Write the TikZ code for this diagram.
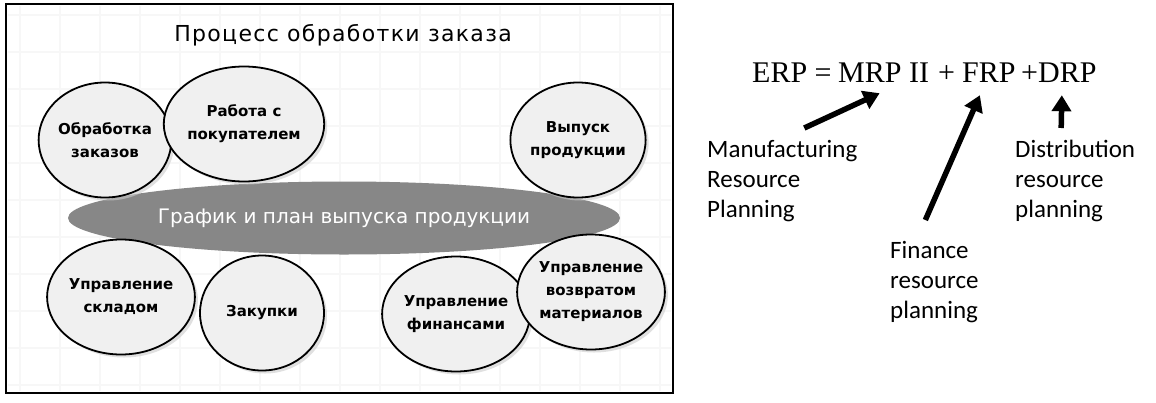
\documentclass[tikz,border=0pt]{standalone}
\usepackage{fontspec}
\setmainfont{DejaVu Sans}
\newfontfamily\titlefont[LetterSpace=6]{DejaVu Sans}
\newfontfamily\circfont{DejaVu Sans}
\newfontfamily\planfont{DejaVu Sans}
\newfontfamily\notefont{Carlito}
\newfontfamily\eqfont{Liberation Serif}
\usetikzlibrary{shapes.geometric,shadows,arrows.meta}

\tikzset{
  block/.style={draw, ellipse, line width=1.8pt, fill=gray!12,
    minimum width=124pt, minimum height=115pt, inner sep=0pt, align=center,
    font=\circfont\bfseries\fontsize{15}{23}\selectfont,
    drop shadow={shadow xshift=3pt, shadow yshift=-3pt, fill=gray!40, opacity=0.6}},
  planell/.style={ellipse, fill=black!47, minimum width=552pt, minimum height=73pt,
    inner sep=0pt, text=white, font=\planfont\fontsize{20}{24}\selectfont},
  gridline/.style={gray!6, line width=1.5pt},
  eqtext/.style={font=\eqfont\fontsize{30}{36}\selectfont, inner sep=0pt, anchor=base west},
  note/.style={font=\notefont\fontsize{25}{30}\selectfont, align=left, inner sep=0pt, anchor=north west},
  bigarrow/.style={line width=5.5pt, -{Triangle[width=19pt,length=16pt]}}
}

\begin{document}
\begin{tikzpicture}[x=1pt,y=-1pt]
  \useasboundingbox (0,0) rectangle (1156,402);
  \fill[white] (0,0) rectangle (1156,402);

  % order process panel
  \foreach \gx in {20,60,...,660}
    \draw[gridline] (\gx,6) -- (\gx,391);
  \foreach \gy in {15,52,...,385}
    \draw[gridline] (8,\gy) -- (671,\gy);
  \draw[line width=1.3pt] (6,4) rectangle (673,393);

  \node[font=\titlefont\fontsize{22}{26}\selectfont, anchor=base, inner sep=0pt] (title) at (343,41) {Процесс обработки заказа};

  \node[planell] (plan) at (344,218) {График и план выпуска продукции};

  \node[block] (orders) at (105,140) {Обработка\\заказов};
  \node[block] (clients) at (244,124) {Работа с\\покупателем};
  \node[block] (output) at (578,140) {Выпуск\\продукции};
  \node[block] (stock) at (121,297) {Управление\\складом};
  \node[block] (purchase) at (262,313) {Закупки};
  \node[block] (finance) at (456,314) {Управление\\финансами};
  \node[block] (returns) at (591,292) {Управление\\возвратом\\материалов};

  % erp formula
  \node[eqtext] (erp) at (752,82) {ERP =};
  \node[eqtext] (mrp) at (838,82) {MRP II};
  \node[eqtext] (plus) at (938,82) {+};
  \node[eqtext] (frp) at (962,82) {FRP};
  \node[eqtext] (drp) at (1021,82) {+DRP};

  \node[note] (manuf) at (707,140) {Manufacturing\\Resource\\Planning};
  \node[note] (distr) at (1015,140) {Distribution\\resource\\planning};
  \node[note] (finres) at (890,241) {Finance\\resource\\planning};

  \draw[bigarrow] ([xshift=22pt,yshift=12pt]manuf.north) -- ([xshift=-4pt,yshift=-11pt]mrp.south);
  \draw[bigarrow] ([xshift=-9pt,yshift=21pt]finres.north) -- ([xshift=-9pt,yshift=-13pt]frp.south);
  \draw[bigarrow] ([xshift=-14pt,yshift=12pt]distr.north) -- ([xshift=3pt,yshift=-13pt]drp.south);
\end{tikzpicture}
\end{document}
